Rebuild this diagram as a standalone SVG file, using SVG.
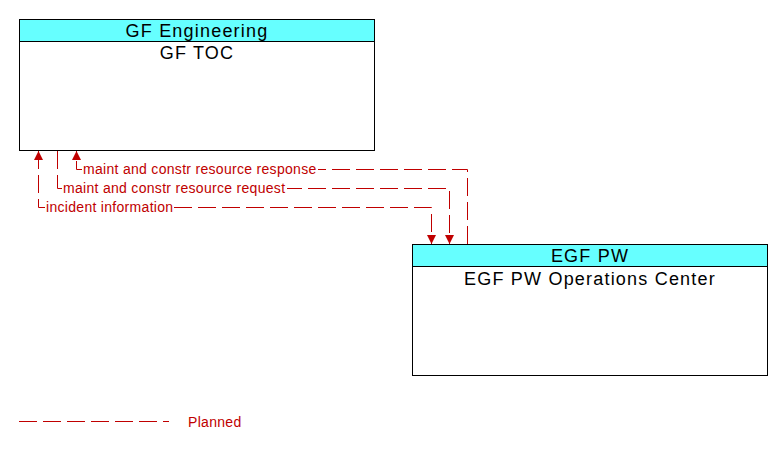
<svg xmlns="http://www.w3.org/2000/svg" width="783" height="449" viewBox="0 0 783 449">
<defs>
<marker id="arr" viewBox="0 0 10 10" refX="10" refY="5" markerWidth="9" markerHeight="9" markerUnits="userSpaceOnUse" orient="auto-start-reverse">
<path d="M0,0 L10,5 L0,10 Z" fill="#c00000"/>
</marker>
<style>
.box{fill:#fff;stroke:#000;stroke-width:1}
.hdr{fill:#66ffff;stroke:#000;stroke-width:1}
.t{font-family:"Liberation Sans",Arial,sans-serif;font-size:18px;letter-spacing:1.2px;fill:#000;text-anchor:middle}
.flow{fill:none;stroke:#c00000;stroke-width:1;stroke-dasharray:18 6}
.lbl{font-family:"Liberation Sans",Arial,sans-serif;font-size:14px;letter-spacing:0.3px;fill:#c00000}
.bg{fill:#fff}
</style>
</defs>
<rect width="783" height="449" fill="#fff"/>
<g id="gf-toc">
<rect class="box" x="19.5" y="19.5" width="355" height="131"/>
<rect class="hdr" x="19.5" y="19.5" width="355" height="22"/>
<text class="t" x="197" y="37">GF Engineering</text>
<text class="t" x="197" y="59">GF TOC</text>
</g>
<g id="egf-pw">
<rect class="box" x="412.5" y="244.5" width="355" height="131"/>
<rect class="hdr" x="412.5" y="244.5" width="355" height="22"/>
<text class="t" x="590" y="262">EGF PW</text>
<text class="t" x="590" y="285">EGF PW Operations Center</text>
</g>
<g id="connectors">
<path class="flow" d="M467.5,244 V169.5 H76.5 V151" marker-end="url(#arr)"/>
<path class="flow" d="M57.5,151 V188.5 H449.5 V244" marker-end="url(#arr)"/>
<path class="flow" d="M38.5,151 V207.5 H431.5 V244" marker-start="url(#arr)" marker-end="url(#arr)"/>
<rect class="bg" x="82" y="162" width="236" height="15"/>
<text class="lbl" x="83" y="174">maint and constr resource response</text>
<rect class="bg" x="62" y="181" width="225" height="15"/>
<text class="lbl" x="63" y="193">maint and constr resource request</text>
<rect class="bg" x="45" y="200" width="128" height="15"/>
<text class="lbl" x="46" y="212">incident information</text>
</g>
<g id="legend">
<line class="flow" x1="19" y1="421.5" x2="169" y2="421.5"/>
<text class="lbl" x="188" y="427">Planned</text>
</g>
</svg>
